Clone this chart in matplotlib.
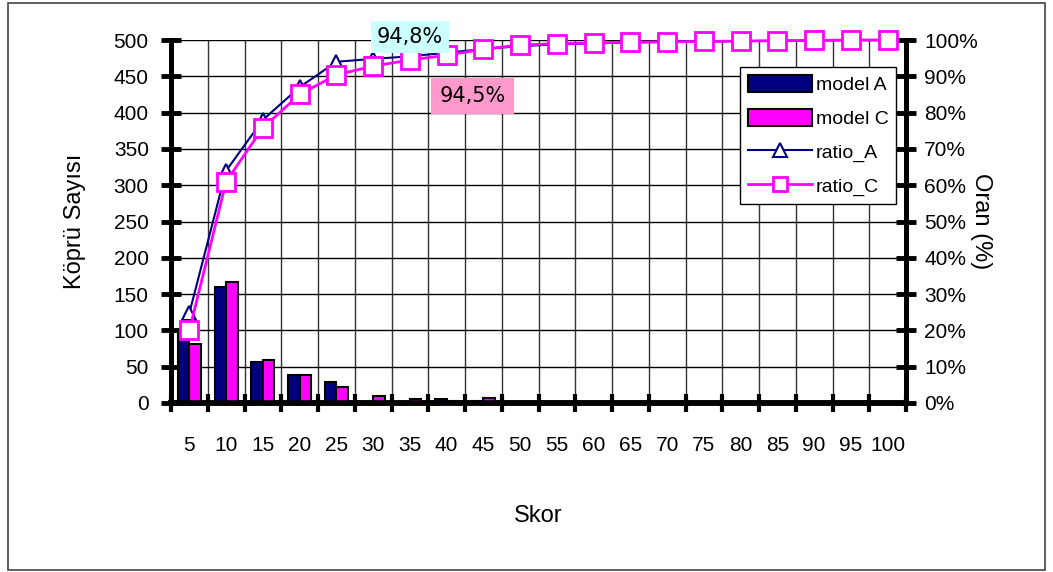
import numpy as np
import matplotlib
matplotlib.use('Agg')
import matplotlib.pyplot as plt
from matplotlib.patches import Rectangle, Patch
from matplotlib.lines import Line2D

plt.rcParams['font.family'] = ['Liberation Sans Narrow', 'Liberation Sans', 'DejaVu Sans']

# veriler
skor = [5, 10, 15, 20, 25, 30, 35, 40, 45, 50, 55, 60, 65, 70, 75, 80, 85, 90, 95, 100]
model_a = [101, 160, 57, 38, 29, 2, 2, 5, 3, 2, 0, 0, 0, 0, 0, 0, 0, 0, 0, 0]
model_c = [81, 166, 59, 38, 22, 9, 6, 3, 7, 2, 0, 0, 0, 0, 0, 0, 0, 0, 0, 0]
ratio_a = [24.8, 64.0, 78.0, 87.0, 94.0, 94.8, 95.5, 96.5, 97.5, 98.3, 98.8, 99.1, 99.3, 99.5, 99.6, 99.7, 99.8, 99.9, 100, 100]
ratio_c = [20.0, 61.0, 75.8, 85.0, 90.4, 92.8, 94.5, 95.8, 97.5, 98.6, 99.0, 99.2, 99.4, 99.5, 99.6, 99.7, 99.8, 99.9, 100, 100]

x = np.arange(len(skor))
w = 0.31

fig = plt.figure(figsize=(10.53, 5.72), dpi=100)
ax = fig.add_axes([171/1053, 1-403/572, (906-171)/1053, (403-40)/572])
ax2 = ax.twinx()

ax.bar(x - w/2, model_a, w, color='#000080', edgecolor='black', linewidth=1.5, zorder=3)
ax.bar(x + w/2, model_c, w, color='#ff00ff', edgecolor='black', linewidth=1.5, zorder=3)

ax2.plot(x, ratio_a, color='#000080', lw=1.5, marker='^', ms=10, mfc='white', mec='#000080',
         mew=1.5, clip_on=False)
ax2.plot(x, ratio_c, color='#ff00ff', lw=2, marker='s', ms=13, mfc='white', mec='#ff00ff',
         mew=2, clip_on=False)

ax.set_xlim(-0.5, len(skor) - 0.5)
ax.set_ylim(0, 500)
ax2.set_ylim(0, 100)
ax.set_yticks(np.arange(0, 501, 50))
ax2.set_yticks(np.arange(0, 101, 10))
ax2.set_yticklabels(['{:d}%'.format(v) for v in range(0, 101, 10)])

ax.set_xticks(x)
ax.set_xticklabels([str(s) for s in skor])
ax.set_xticks(np.arange(-0.5, len(skor)), minor=True)
ax.tick_params(axis='x', which='major', length=0, pad=24, labelsize=15)
ax.tick_params(axis='x', which='minor', length=13, width=3, direction='inout')
ax.tick_params(axis='y', length=14, width=3.5, direction='inout', pad=9, labelsize=15)
ax2.tick_params(axis='y', length=14, width=3.5, direction='inout', pad=6, labelsize=15)

ax.grid(True, which='minor', axis='x', color='#333333', lw=1)
ax.grid(True, which='major', axis='y', color='black', lw=1)
ax.set_axisbelow(True)

for a in (ax, ax2):
    a.spines['top'].set_visible(False)
    a.spines['left'].set_linewidth(3.5)
    a.spines['right'].set_linewidth(3.5)
    a.spines['bottom'].set_linewidth(4)

ax.set_ylabel('Köprü Sayısı', fontsize=17, labelpad=20)
ax2.set_ylabel('Oran (%)', fontsize=17, rotation=270, labelpad=10)
ax.set_xlabel('Skor', fontsize=17, labelpad=36)

# etiketler
ax2.text(0.325, 1.008, '94,8%', transform=ax2.transAxes, ha='center', va='center',
         fontsize=15, family='DejaVu Sans',
         bbox=dict(boxstyle='square,pad=0.3', fc='#ccffff', ec='none'))
ax2.text(0.41, 0.846, '94,5%', transform=ax2.transAxes, ha='center', va='center',
         fontsize=15, family='DejaVu Sans',
         bbox=dict(boxstyle='square,pad=0.4', fc='#ff99cc', ec='none'))

handles = [Patch(fc='#000080', ec='black', lw=1.5),
           Patch(fc='#ff00ff', ec='black', lw=1.5),
           Line2D([], [], color='#000080', lw=1.5, marker='^', ms=10, mfc='white', mec='#000080', mew=1.5),
           Line2D([], [], color='#ff00ff', lw=2, marker='s', ms=10, mfc='white', mec='#ff00ff', mew=2)]
leg = ax2.legend(handles, ['model A', 'model C', 'ratio_A', 'ratio_C'], loc='upper right',
                 bbox_to_anchor=(0.987, 0.926), fontsize=14, fancybox=False, framealpha=1,
                 edgecolor='black', handlelength=3.3, handleheight=1.0, labelspacing=0.75,
                 borderpad=0.4, handletextpad=0.2, borderaxespad=0)
leg.get_frame().set_linewidth(1)

fig.patches.append(Rectangle((8/1053, 2/572), 1037/1053, 567/572, transform=fig.transFigure,
                             fill=False, ec='#444444', lw=1.2))

plt.savefig('out.png', dpi=100)
